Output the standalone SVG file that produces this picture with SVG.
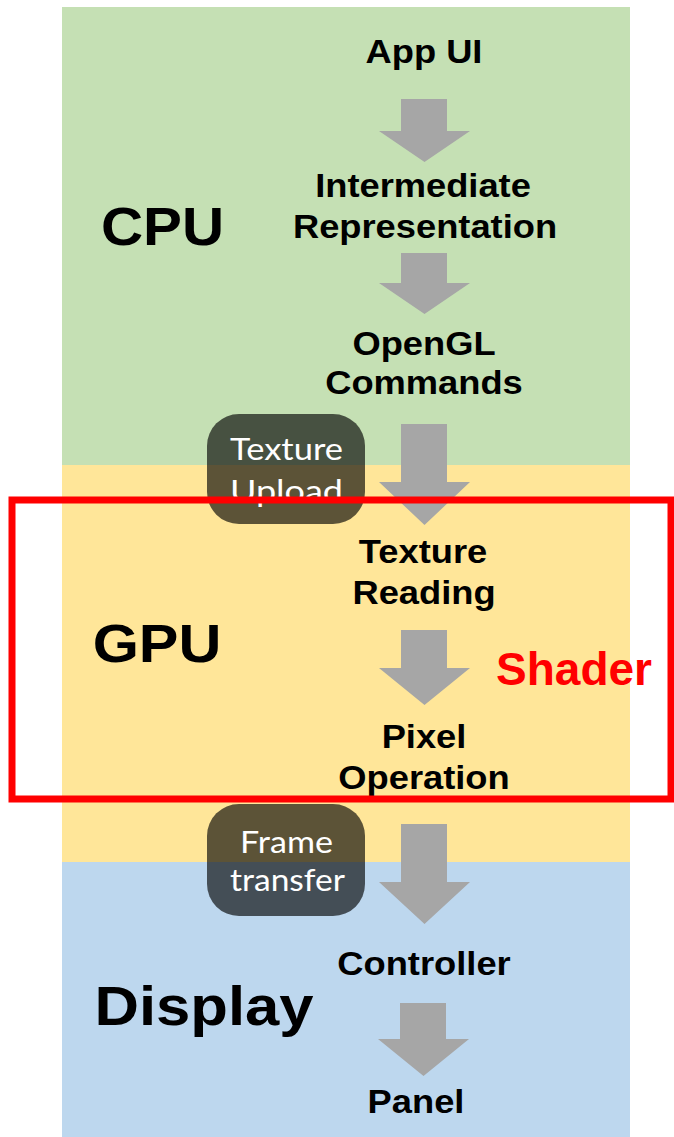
<svg xmlns="http://www.w3.org/2000/svg" xmlns:xlink="http://www.w3.org/1999/xlink" width="674" height="1137" viewBox="0 0 674 1137">
<style>
.lbl{font-family:"Liberation Sans",Arial,sans-serif;font-weight:bold;fill:#000;text-anchor:middle}
.node{font-size:33px}
.big{font-size:53px}
.badge{fill:#000;fill-opacity:0.64}
.btxt{font-family:Lato,"Open Sans",sans-serif;font-size:30px;fill:#fff;text-anchor:middle}
.arrow{fill:#a6a6a6}
</style>
<rect width="674" height="1137" fill="#fff"/>
<g id="bands">
<rect x="62" y="7" width="568" height="458" fill="#c5e0b4"/>
<rect x="62" y="465" width="568" height="397" fill="#ffe699"/>
<rect x="62" y="862" width="568" height="275" fill="#bdd7ee"/>
</g>
<g id="section-labels">
<text class="lbl big" transform="translate(162.5,245) scale(1.1,1)">CPU</text>
<text class="lbl big" transform="translate(157,662) scale(1.1,1)" style="font-size:54px">GPU</text>
<text class="lbl big" transform="translate(204,1025) scale(1.1,1)" style="font-size:56px">Display</text>
</g>
<g id="connectors">
<path class="arrow" d="M401,99 H447 V131 H470 L424.5,162 L379,131 H401 Z"/>
<path class="arrow" d="M401,253 H447 V283 H470 L424.5,314 L379,283 H401 Z"/>
<path class="arrow" d="M401,424 H447 V482 H470 L424.5,525 L379,482 H401 Z"/>
<path class="arrow" d="M401,630 H447 V668 H470 L424.5,705 L379,668 H401 Z"/>
<path class="arrow" d="M401,824 H447 V882 H470 L424.5,924 L379,882 H401 Z"/>
<path class="arrow" d="M400,1003 H446 V1039 H469 L423.5,1076 L378,1039 H400 Z"/>
</g>
<g id="node-appui"><text class="lbl node" transform="translate(424,63) scale(1.1,1)">App UI</text></g>
<g id="node-ir">
<text class="lbl node" transform="translate(423,197) scale(1.1,1)">Intermediate</text>
<text class="lbl node" transform="translate(425,238) scale(1.1,1)">Representation</text>
</g>
<g id="node-opengl">
<text class="lbl node" transform="translate(424,355) scale(1.1,1)">OpenGL</text>
<text class="lbl node" transform="translate(424,394) scale(1.1,1)">Commands</text>
</g>
<g id="node-texture-reading">
<text class="lbl node" transform="translate(423,563) scale(1.1,1)">Texture</text>
<text class="lbl node" transform="translate(424,604) scale(1.1,1)">Reading</text>
</g>
<g id="node-pixel-operation">
<text class="lbl node" transform="translate(424,748) scale(1.1,1)">Pixel</text>
<text class="lbl node" transform="translate(424,789) scale(1.1,1)">Operation</text>
</g>
<g id="node-controller"><text class="lbl node" transform="translate(424,975) scale(1.1,1)">Controller</text></g>
<g id="node-panel"><text class="lbl node" transform="translate(416,1113) scale(1.1,1)">Panel</text></g>
<g id="badge-texture-upload">
<rect class="badge" x="207" y="414" width="158" height="110" rx="32"/>
<text class="btxt" x="286.5" y="460" textLength="113" lengthAdjust="spacingAndGlyphs">Texture</text>
<text class="btxt" x="286.5" y="502" textLength="113" lengthAdjust="spacingAndGlyphs">Upload</text>
</g>
<g id="badge-frame-transfer">
<rect class="badge" x="207" y="804" width="158" height="112" rx="32"/>
<text class="btxt" x="286.5" y="853" textLength="93" lengthAdjust="spacingAndGlyphs">Frame</text>
<text class="btxt" x="287.5" y="891" textLength="115" lengthAdjust="spacingAndGlyphs">transfer</text>
</g>
<g id="shader">
<rect x="12" y="500" width="659" height="299" fill="none" stroke="#ff0000" stroke-width="7"/>
<text x="574" y="685" style="font-family:'Liberation Sans',Arial,sans-serif;font-weight:bold;font-size:46px;fill:#ff0000;text-anchor:middle">Shader</text>
</g>
</svg>
